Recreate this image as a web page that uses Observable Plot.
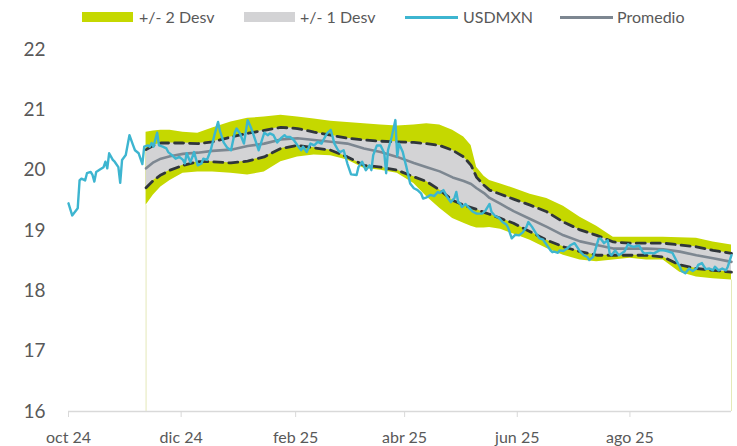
<!DOCTYPE html>
<html>
<head>
<meta charset="utf-8">
<script src="https://cdn.jsdelivr.net/npm/d3@7"></script>
<script src="https://cdn.jsdelivr.net/npm/@observablehq/plot@0.6"></script>
<style>
  html, body { margin: 0; padding: 0; background: #fff; }
  #wrap { position: relative; width: 737px; height: 446px; font-family: Lato, "Open Sans", sans-serif; }
  #legend { position: absolute; left: 0; top: 0; width: 737px; height: 36px; }
  .sw { position: absolute; }
  .lt { position: absolute; top: 7px; font-size: 16px; line-height: 20px; color: #595959; white-space: nowrap; }
  #chart { position: absolute; left: 0; top: 36px; }
</style>
</head>
<body>
<div id="wrap">
  <div id="legend"></div>
  <div id="chart"></div>
</div>
<script>
// ---------- data ----------
const usdDates = [
  "2024-10-01","2024-10-03","2024-10-06","2024-10-07","2024-10-08","2024-10-10","2024-10-11","2024-10-13","2024-10-14","2024-10-15",
  "2024-10-16","2024-10-18","2024-10-20","2024-10-21","2024-10-22","2024-10-23","2024-10-25","2024-10-26","2024-10-28","2024-10-29",
  "2024-10-30","2024-11-01","2024-11-03","2024-11-05","2024-11-06","2024-11-08","2024-11-10","2024-11-11","2024-11-13","2024-11-14",
  "2024-11-15","2024-11-16","2024-11-18","2024-11-19","2024-11-21","2024-11-23","2024-11-24","2024-11-26","2024-11-28","2024-11-30",
  "2024-12-02","2024-12-03","2024-12-04","2024-12-06","2024-12-08","2024-12-10","2024-12-12","2024-12-13","2024-12-15","2024-12-17",
  "2024-12-19","2024-12-21","2024-12-22","2024-12-24","2024-12-26","2024-12-28","2024-12-30","2024-12-31","2025-01-02","2025-01-04",
  "2025-01-06","2025-01-08","2025-01-09","2025-01-12","2025-01-15","2025-01-17","2025-01-18","2025-01-20","2025-01-22","2025-01-24",
  "2025-01-26","2025-01-27","2025-01-29","2025-01-31","2025-02-02","2025-02-04","2025-02-05","2025-02-07","2025-02-09","2025-02-11",
  "2025-02-13","2025-02-15","2025-02-16","2025-02-18","2025-02-20","2025-02-22","2025-02-24","2025-02-25","2025-02-27","2025-03-01",
  "2025-03-03","2025-03-06","2025-03-07","2025-03-09","2025-03-11","2025-03-13","2025-03-14","2025-03-15","2025-03-17","2025-03-19",
  "2025-03-21","2025-03-22","2025-03-23","2025-03-25","2025-03-27","2025-03-28","2025-03-29","2025-03-31","2025-04-01","2025-04-02",
  "2025-04-04","2025-04-06","2025-04-08","2025-04-10","2025-04-11","2025-04-13","2025-04-15","2025-04-17","2025-04-19","2025-04-20",
  "2025-04-22","2025-04-24","2025-04-26","2025-04-28","2025-04-29","2025-04-30","2025-05-01","2025-05-02","2025-05-04","2025-05-06",
  "2025-05-08","2025-05-10","2025-05-13","2025-05-15","2025-05-17","2025-05-18","2025-05-20","2025-05-22","2025-05-24","2025-05-26",
  "2025-05-27","2025-05-29","2025-05-31","2025-06-02","2025-06-04","2025-06-06","2025-06-07","2025-06-09","2025-06-11","2025-06-13",
  "2025-06-15","2025-06-16","2025-06-17","2025-06-19","2025-06-20","2025-06-21","2025-06-23","2025-06-24","2025-06-26","2025-06-28",
  "2025-06-30","2025-07-02","2025-07-04","2025-07-05","2025-07-07","2025-07-09","2025-07-10","2025-07-12","2025-07-13","2025-07-15",
  "2025-07-16","2025-07-18","2025-07-20","2025-07-21","2025-07-22","2025-07-24","2025-07-26","2025-07-29","2025-07-31","2025-08-01",
  "2025-08-03","2025-08-06","2025-08-08","2025-08-09","2025-08-12","2025-08-14","2025-08-17","2025-08-19","2025-08-21","2025-08-24",
  "2025-08-26","2025-08-28","2025-08-29","2025-08-31","2025-09-02","2025-09-04","2025-09-06","2025-09-07","2025-09-09","2025-09-11",
  "2025-09-13","2025-09-15","2025-09-16","2025-09-18","2025-09-20","2025-09-22","2025-09-23","2025-09-25"
];
const usdValues = [
  19.45,19.25,19.37,19.83,19.86,19.83,19.95,19.97,19.92,19.81,
  19.97,20.01,20.05,20.14,20.03,20.28,20.17,20.14,20.05,19.79,
  20.17,20.25,20.58,20.41,20.33,20.28,20.10,20.39,20.41,20.39,
  20.45,20.39,20.62,20.41,20.39,20.36,20.30,20.25,20.19,20.22,
  20.17,20.11,20.28,20.13,20.30,20.08,20.11,20.19,20.17,20.33,
  20.58,20.80,20.65,20.46,20.37,20.33,20.62,20.69,20.60,20.44,
  20.83,20.69,20.60,20.33,20.62,20.58,20.61,20.58,20.46,20.53,
  20.58,20.55,20.55,20.50,20.41,20.33,20.39,20.30,20.44,20.41,
  20.47,20.44,20.50,20.61,20.67,20.44,20.33,20.30,20.33,20.11,
  19.93,19.92,20.05,20.14,20.00,20.08,20.00,20.25,20.41,20.41,
  20.28,19.95,20.33,20.55,20.83,20.23,20.44,20.30,20.17,20.05,
  19.78,19.70,19.67,19.61,19.53,19.55,19.59,19.57,19.64,19.62,
  19.67,19.56,19.47,19.54,19.64,19.47,19.45,19.39,19.44,19.37,
  19.31,19.28,19.28,19.34,19.44,19.31,19.24,19.21,19.14,19.10,
  19.05,18.87,18.93,18.92,18.97,19.06,19.14,19.06,18.96,18.87,
  18.85,18.80,18.76,18.67,18.64,18.65,18.63,18.67,18.66,18.70,
  18.76,18.79,18.70,18.65,18.59,18.56,18.51,18.56,18.65,18.86,
  18.87,18.79,18.84,18.62,18.59,18.67,18.59,18.65,18.77,18.75,
  18.73,18.75,18.64,18.62,18.63,18.62,18.67,18.67,18.66,18.63,
  18.51,18.40,18.33,18.29,18.37,18.33,18.37,18.43,18.46,18.36,
  18.37,18.34,18.40,18.34,18.37,18.34,18.40,18.59
];

const bandDates = [
  "2024-11-12","2024-11-16","2024-11-20","2024-11-25","2024-12-02","2024-12-10","2024-12-18","2024-12-28","2025-01-06","2025-01-15",
  "2025-01-24","2025-02-02","2025-02-11","2025-02-20","2025-03-01","2025-03-10","2025-03-19","2025-03-28","2025-04-06","2025-04-13",
  "2025-04-20","2025-04-27","2025-05-03","2025-05-07","2025-05-10","2025-05-14","2025-05-17","2025-05-23","2025-05-30","2025-06-08",
  "2025-06-17","2025-06-26","2025-07-05","2025-07-14","2025-07-23","2025-08-01","2025-08-10","2025-08-19","2025-08-28","2025-09-06",
  "2025-09-15","2025-09-25"
];
const plus2Desv = [
  20.63,20.65,20.66,20.66,20.63,20.61,20.70,20.80,20.86,20.88,
  20.91,20.88,20.85,20.81,20.79,20.77,20.75,20.73,20.75,20.77,
  20.75,20.66,20.55,20.41,20.05,19.90,19.83,19.77,19.70,19.60,
  19.53,19.40,19.22,19.07,18.89,18.89,18.89,18.89,18.88,18.87,
  18.81,18.76
];
const plus1Desv = [
  20.34,20.41,20.45,20.45,20.45,20.44,20.47,20.55,20.61,20.66,
  20.71,20.69,20.63,20.58,20.53,20.50,20.48,20.47,20.46,20.44,
  20.41,20.33,20.22,20.08,19.88,19.75,19.67,19.60,19.52,19.42,
  19.31,19.14,19.01,18.92,18.81,18.79,18.79,18.79,18.76,18.73,
  18.67,18.62
];
const promedio = [
  20.03,20.13,20.19,20.23,20.27,20.29,20.32,20.34,20.40,20.44,
  20.51,20.53,20.50,20.47,20.44,20.36,20.30,20.22,20.12,20.05,
  19.98,19.88,19.82,19.77,19.70,19.62,19.54,19.44,19.32,19.19,
  19.06,18.92,18.82,18.76,18.70,18.70,18.70,18.69,18.65,18.59,
  18.54,18.48
];
const minus1Desv = [
  19.71,19.83,19.92,20.00,20.08,20.14,20.14,20.12,20.15,20.22,
  20.36,20.41,20.37,20.33,20.22,20.08,20.05,20.00,19.89,19.81,
  19.67,19.50,19.42,19.38,19.35,19.30,19.27,19.20,19.12,18.98,
  18.84,18.73,18.65,18.59,18.59,18.59,18.59,18.56,18.43,18.37,
  18.34,18.31
];
const minus2Desv = [
  19.42,19.59,19.72,19.83,19.95,19.97,19.97,19.95,19.92,19.97,
  20.14,20.22,20.25,20.24,20.17,20.03,20.00,19.95,19.78,19.56,
  19.37,19.20,19.12,19.07,19.04,19.04,19.05,19.02,18.94,18.84,
  18.70,18.59,18.51,18.48,18.51,18.54,18.51,18.51,18.31,18.23,
  18.20,18.18
];

const yTicks = [16, 17, 18, 19, 20, 21, 22];
const xTicks = ["2024-10-01","2024-12-01","2025-02-01","2025-04-01","2025-06-01","2025-08-01"];
const xDomain = ["2024-10-01","2025-09-25"];
const monthNames = ["ene","feb","mar","abr","may","jun","jul","ago","sep","oct","nov","dic"];
const legendItems = [
  {label: "+/- 2 Desv", kind: "box", color: "#c5d800"},
  {label: "+/- 1 Desv", kind: "box", color: "#d3d3d5"},
  {label: "USDMXN", kind: "line", color: "#3db5d0"},
  {label: "Promedio", kind: "line", color: "#7d8791"}
];

// ---------- tables ----------
const usd = usdDates.map((d, i) => ({date: new Date(d), v: usdValues[i]}));
const band = bandDates.map((d, i) => ({
  date: new Date(d), p2: plus2Desv[i], p1: plus1Desv[i], m: promedio[i], m1: minus1Desv[i], m2: minus2Desv[i]
}));
const fmt = d => monthNames[d.getUTCMonth()] + " " + String(d.getUTCFullYear()).slice(2);

// ---------- legend ----------
const legend = document.getElementById("legend");
const legendPos = [[82, 139], [244, 300], [405, 463], [560, 617]];
legendItems.forEach((it, i) => {
  const [sx, tx] = legendPos[i];
  const sw = document.createElement("div");
  sw.className = "sw";
  if (it.kind === "box") {
    sw.style.cssText = `left:${sx}px;top:12px;width:51px;height:10px;background:${it.color}`;
  } else {
    sw.style.cssText = `left:${sx}px;top:16px;width:53px;height:3px;background:${it.color}`;
  }
  legend.appendChild(sw);
  const t = document.createElement("div");
  t.className = "lt";
  t.style.left = tx + "px";
  t.textContent = it.label;
  legend.appendChild(t);
});

// ---------- chart ----------
const chart = Plot.plot({
  width: 737,
  height: 410,
  marginLeft: 68,
  marginRight: 6,
  marginTop: 13,
  marginBottom: 35,
  style: {fontFamily: "Lato, 'Open Sans', sans-serif", background: "transparent", overflow: "visible"},
  x: {type: "utc", domain: xDomain.map(d => new Date(d))},
  y: {domain: [16, 22]},
  marks: [
    Plot.ruleX([band[0], band[band.length - 1]], {x: "date", y1: 16, y2: "m2", stroke: "#e4e9b8", strokeWidth: 1}),
    Plot.areaY(band, {x: "date", y1: "m2", y2: "p2", fill: "#c5d800", curve: "linear"}),
    Plot.areaY(band, {x: "date", y1: "m1", y2: "p1", fill: "#d3d3d5", curve: "linear"}),
    Plot.lineY(band, {x: "date", y: "m", stroke: "#7d8791", strokeWidth: 2.6}),
    Plot.lineY(band, {x: "date", y: "p1", stroke: "#30363b", strokeWidth: 2.8, strokeDasharray: "9,6"}),
    Plot.lineY(band, {x: "date", y: "m1", stroke: "#30363b", strokeWidth: 2.8, strokeDasharray: "9,6"}),
    Plot.lineY(usd, {x: "date", y: "v", stroke: "#3db5d0", strokeWidth: 2.4}),
    Plot.ruleY([16], {stroke: "#d9d9d9", strokeWidth: 1.5}),
    Plot.axisX({ticks: xTicks.map(d => new Date(d)), tickFormat: fmt, tickSize: 6, tickPadding: 14,
      stroke: "#d9d9d9", fill: "#595959", fontSize: 16, label: null}),
    Plot.axisY({ticks: yTicks, tickFormat: d => String(d), tickSize: 0, tickPadding: 23,
      fill: "#595959", fontSize: 19, label: null})
  ]
});
document.getElementById("chart").appendChild(chart);
</script>
</body>
</html>
